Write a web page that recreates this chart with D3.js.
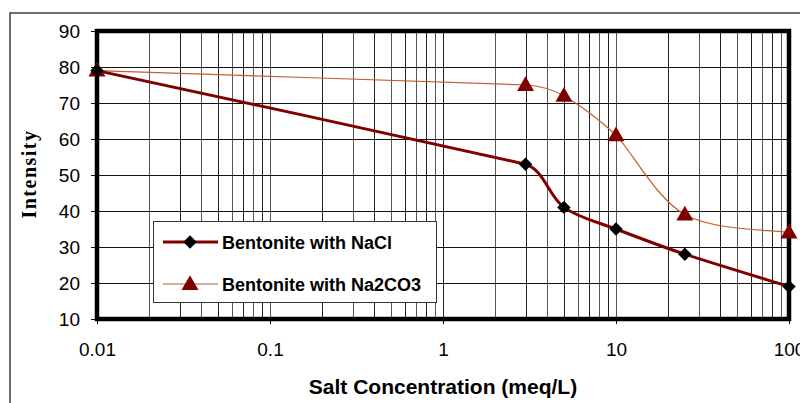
<!DOCTYPE html>
<html>
<head>
<meta charset="utf-8">
<script src="https://cdn.jsdelivr.net/npm/d3@7"></script>
<style>
  body { margin: 0; background: #fff; }
  text { font-family: Arial, "Liberation Sans", sans-serif; }
</style>
</head>
<body>
<div id="vis"></div>
<script>
// Chart data
var concentrations = [0.01, 3, 5, 10, 25, 100];
var naclValues = [79, 53, 41, 35, 28, 19];
var na2co3Values = [79, 75, 72, 61, 39, 34];
var seriesNames = ['Bentonite with NaCl', 'Bentonite with Na2CO3'];
var xTicks = [0.01, 0.1, 1, 10, 100];
var xTickLabels = ['0.01', '0.1', '1', '10', '100'];
var yTicks = [10, 20, 30, 40, 50, 60, 70, 80, 90];

// Drawing area
var margin = { left: 97, top: 31, right: 11, bottom: 84 };
var W = 800, H = 403;
var width = W - margin.left - margin.right;
var height = H - margin.top - margin.bottom;

var svg = d3.select('#vis').append('svg')
    .attr('width', W)
    .attr('height', H);

// Outer chart frame (only top and left visible)
svg.append('path')
    .attr('d', 'M10,403 L10,13 L800,13')
    .attr('fill', 'none')
    .attr('stroke', '#404040')
    .attr('stroke-width', 1.5);

var x = d3.scaleLog().domain([0.01, 100]).range([0, width]);
var y = d3.scaleLinear().domain([10, 90]).range([height, 0]);

var g = svg.append('g')
    .attr('transform', 'translate(' + margin.left + ',' + margin.top + ')');

// Minor + major vertical grid lines
var gridX = [];
[0.01, 0.1, 1, 10].forEach(function(d) {
    for (var k = 1; k <= 9; k++) gridX.push(d * k);
});
g.selectAll('.vgrid').data(gridX.slice(1)).enter().append('line')
    .attr('class', 'vgrid')
    .attr('x1', function(d) { return Math.round(x(d)) + 0.5; })
    .attr('x2', function(d) { return Math.round(x(d)) + 0.5; })
    .attr('y1', 0).attr('y2', height)
    .attr('stroke', function(d, i) { return i % 2 ? '#222' : '#555'; })
    .attr('stroke-width', 1);

// Horizontal grid lines
g.selectAll('.hgrid').data(yTicks).enter().append('line')
    .attr('class', 'hgrid')
    .attr('x1', 0).attr('x2', width)
    .attr('y1', function(d) { return Math.round(y(d)) + 0.5; })
    .attr('y2', function(d) { return Math.round(y(d)) + 0.5; })
    .attr('stroke', '#111')
    .attr('stroke-width', 1);

// Axes
var yAxis = d3.axisLeft(y).tickValues(yTicks).tickSize(6).tickPadding(11);
var yg = g.append('g').call(yAxis);
yg.select('.domain').remove();
yg.selectAll('text').style('font-size', '19px').attr('fill', '#000');

var xAxis = d3.axisBottom(x).tickValues(xTicks).tickSize(5).tickPadding(19)
    .tickFormat(function(d, i) { return xTickLabels[i]; });
var xg = g.append('g').attr('transform', 'translate(0,' + height + ')').call(xAxis);
xg.select('.domain').remove();
xg.selectAll('text').style('font-size', '19px').attr('fill', '#000');

// Thick plot frame
g.append('rect')
    .attr('x', 0).attr('y', 0)
    .attr('width', width).attr('height', height)
    .attr('fill', 'none')
    .attr('stroke', '#000')
    .attr('stroke-width', 4.5);

// Excel-like smoothed curve: cardinal tangents, clamped to a third of the
// shorter neighbouring segment so long gaps stay almost straight
function smoothCurve(context) {
    var pts;
    return {
        areaStart: function() {},
        areaEnd: function() {},
        lineStart: function() { pts = []; },
        point: function(px, py) { pts.push([px, py]); },
        lineEnd: function() {
            var n = pts.length;
            var dist = function(a, b) { return Math.hypot(b[0] - a[0], b[1] - a[1]); };
            var tan = pts.map(function(p, i) {
                var a = pts[Math.max(i - 1, 0)], b = pts[Math.min(i + 1, n - 1)];
                var t = [(b[0] - a[0]) / 6, (b[1] - a[1]) / 6];
                var lim = Infinity;
                if (i > 0) lim = Math.min(lim, dist(pts[i - 1], p) / 3);
                if (i < n - 1) lim = Math.min(lim, dist(p, pts[i + 1]) / 3);
                var len = Math.hypot(t[0], t[1]);
                if (len > lim) { t = [t[0] * lim / len, t[1] * lim / len]; }
                return t;
            });
            context.moveTo(pts[0][0], pts[0][1]);
            for (var i = 0; i < n - 1; i++) {
                var p = pts[i], q = pts[i + 1];
                context.bezierCurveTo(p[0] + tan[i][0], p[1] + tan[i][1],
                    q[0] - tan[i + 1][0], q[1] - tan[i + 1][1], q[0], q[1]);
            }
        }
    };
}

var line = d3.line()
    .x(function(d) { return x(d[0]); })
    .y(function(d) { return y(d[1]); })
    .curve(smoothCurve);

var naclData = concentrations.map(function(c, i) { return [c, naclValues[i]]; });
var na2co3Data = concentrations.map(function(c, i) { return [c, na2co3Values[i]]; });

g.append('path').datum(na2co3Data)
    .attr('d', line)
    .attr('fill', 'none')
    .attr('stroke', '#c0602a')
    .attr('stroke-width', 1.2);

g.append('path').datum(naclData)
    .attr('d', line)
    .attr('fill', 'none')
    .attr('stroke', '#800000')
    .attr('stroke-width', 3);

var diamond = d3.symbol().type(d3.symbolDiamond2).size(115);
var triangle = d3.symbol().type(d3.symbolTriangle).size(125);

g.selectAll('.tri').data(na2co3Data).enter().append('path')
    .attr('class', 'tri')
    .attr('d', triangle)
    .attr('transform', function(d) { return 'translate(' + x(d[0]) + ',' + (y(d[1]) + 1) + ')'; })
    .attr('fill', '#800000');

g.selectAll('.dia').data(naclData).enter().append('path')
    .attr('class', 'dia')
    .attr('d', diamond)
    .attr('transform', function(d) { return 'translate(' + x(d[0]) + ',' + y(d[1]) + ')'; })
    .attr('fill', '#000');

// Legend
var legend = svg.append('g').attr('transform', 'translate(153,221)');
legend.append('rect')
    .attr('x', 0.5).attr('y', 0.5)
    .attr('width', 283).attr('height', 81)
    .attr('fill', '#fff')
    .attr('stroke', '#333')
    .attr('stroke-width', 1);

var legendRows = [
    { name: seriesNames[0], color: '#800000', width: 3, symbol: diamond, fill: '#000' },
    { name: seriesNames[1], color: '#c8957a', width: 1.5, symbol: triangle, fill: '#800000' }
];
legendRows.forEach(function(r, i) {
    var ly = 21 + i * 42;
    legend.append('line')
        .attr('x1', 10).attr('x2', 65)
        .attr('y1', ly).attr('y2', ly)
        .attr('stroke', r.color)
        .attr('stroke-width', r.width);
    legend.append('path')
        .attr('d', r.symbol)
        .attr('transform', 'translate(37,' + (ly + (i ? 1 : 0)) + ')')
        .attr('fill', r.fill);
    legend.append('text')
        .attr('x', 69).attr('y', ly + 6.5)
        .style('font-size', '18px')
        .style('font-weight', 'bold')
        .text(r.name);
});

// Axis titles
svg.append('text')
    .attr('x', margin.left + width / 2)
    .attr('y', 394)
    .attr('text-anchor', 'middle')
    .style('font-size', '21px')
    .style('font-weight', 'bold')
    .text('Salt Concentration (meq/L)');

svg.append('text')
    .attr('transform', 'translate(36,174) rotate(-90)')
    .attr('text-anchor', 'middle')
    .style('font-family', '"Liberation Serif", "Times New Roman", serif')
    .style('font-size', '20px')
    .style('font-weight', 'bold')
    .style('letter-spacing', '1.5px')
    .text('Intensity');
</script>
</body>
</html>
